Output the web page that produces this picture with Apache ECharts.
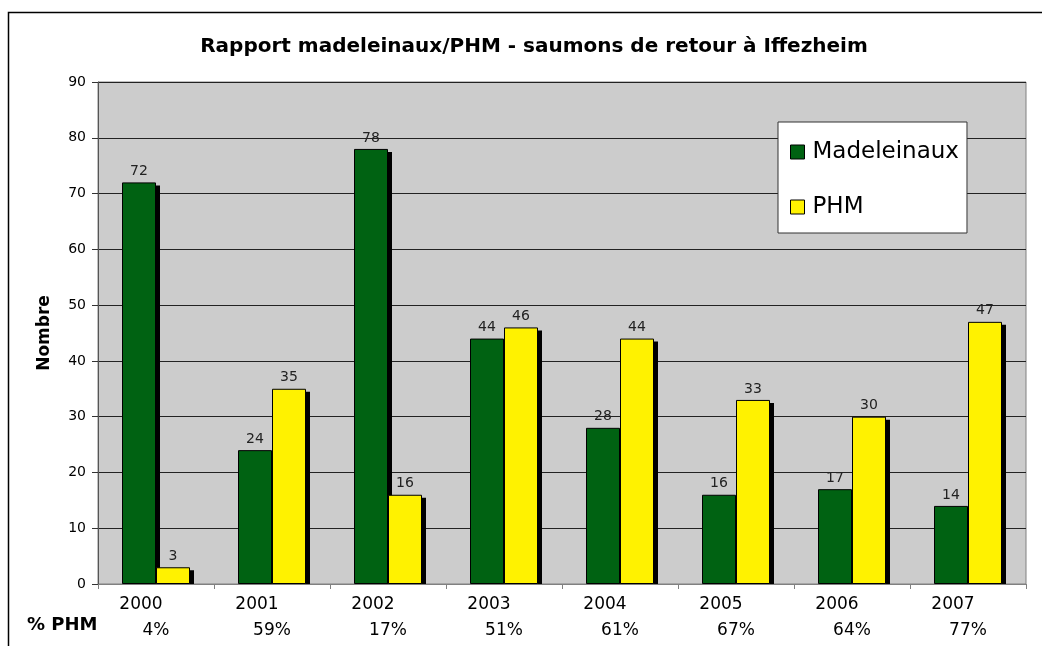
<!DOCTYPE html>
<html>
<head>
<meta charset="utf-8">
<script src="https://cdn.jsdelivr.net/npm/echarts@6/dist/echarts.min.js"></script>
<style>
  html, body { margin: 0; padding: 0; background: #fff; }
  #chart { width: 1042px; height: 646px; }
</style>
</head>
<body>
<div id="chart"></div>
<script>
const years = ['2000', '2001', '2002', '2003', '2004', '2005', '2006', '2007']
const madeleinaux = [72, 24, 78, 44, 28, 16, 17, 14]
const phm = [3, 35, 16, 46, 44, 33, 30, 47]
const pctPhm = ['4%', '59%', '17%', '51%', '61%', '67%', '64%', '77%']
const yTicks = { min: 0, max: 90, interval: 10 }

const BAR_W = 34

const chart = echarts.init(document.getElementById('chart'))

const labelStyle = {
  show: true,
  position: 'top',
  distance: 4,
  fontFamily: 'DejaVu Sans',
  fontSize: 14,
  color: '#222'
}

// drop shadows behind the bars (offset right and down)
function renderShadow(params, api) {
  const i = api.value(0)
  const base = api.coord([i, 0])
  const cx = base[0]
  const children = []
  ;[1, 2].forEach((dim, k) => {
    const top = api.coord([i, api.value(dim)])
    const h = base[1] - top[1] - 3
    if (h <= 0) return
    children.push({
      type: 'rect',
      shape: { x: cx - BAR_W + k * BAR_W + 4, y: top[1] + 3, width: BAR_W, height: h },
      style: { fill: '#000' }
    })
  })
  return { type: 'group', children: children }
}

chart.setOption({
  animation: false,
  backgroundColor: '#fff',
  title: {
    text: 'Rapport madeleinaux/PHM - saumons de retour à Iffezheim',
    left: 529,
    textAlign: 'center',
    top: 32,
    textStyle: {
      fontFamily: 'DejaVu Sans',
      fontWeight: 'bold',
      fontSize: 20,
      color: '#000'
    }
  },
  legend: {
    orient: 'vertical',
    left: 778,
    top: 122,
    padding: [18, 8, 14, 12],
    itemGap: 31,
    itemWidth: 14,
    itemHeight: 14,
    backgroundColor: '#fff',
    borderColor: '#333',
    borderWidth: 1,
    icon: 'rect',
    textStyle: { fontFamily: 'DejaVu Sans', fontSize: 23, lineHeight: 24, color: '#000', padding: [0, 0, 0, 3] },
    itemStyle: { borderColor: '#000', borderWidth: 1 },
    data: ['Madeleinaux', 'PHM']
  },
  grid: { left: 98, right: 16, top: 82, bottom: 62, show: true, backgroundColor: '#cccccc', borderColor: '#808080', borderWidth: 1 },
  xAxis: [
    {
      type: 'category',
      data: years,
      axisLine: { lineStyle: { color: '#808080', width: 1 } },
      axisTick: { show: true, length: 5, lineStyle: { color: '#808080' } },
      axisLabel: {
        margin: 12,
        padding: [0, 30, 0, 0],
        fontFamily: 'DejaVu Sans',
        fontSize: 17,
        color: '#000'
      }
    },
    {
      type: 'category',
      data: pctPhm,
      position: 'bottom',
      offset: 26,
      axisLine: { show: false },
      axisTick: { show: false },
      axisLabel: {
        margin: 12,
        fontFamily: 'DejaVu Sans',
        fontSize: 17,
        color: '#000'
      }
    }
  ],
  yAxis: {
    type: 'value',
    min: yTicks.min,
    max: yTicks.max,
    interval: yTicks.interval,
    name: 'Nombre',
    nameLocation: 'middle',
    nameGap: 45,
    nameRotate: 90,
    nameTextStyle: { fontFamily: 'DejaVu Sans', fontWeight: 'bold', fontSize: 17, color: '#000' },
    axisLine: { show: true, lineStyle: { color: '#555', width: 1 } },
    axisTick: { show: true, length: 6, lineStyle: { color: '#333' } },
    axisLabel: { margin: 12, fontFamily: 'DejaVu Sans', fontSize: 14, color: '#000' },
    splitLine: { lineStyle: { color: '#222', width: 1 } }
  },
  graphic: [
    {
      type: 'rect',
      shape: { x: 8.5, y: 12.5, width: 1040, height: 640 },
      style: { fill: 'none', stroke: '#000', lineWidth: 1.5 },
      silent: true,
      z: -1
    },
    {
      type: 'text',
      left: 27,
      top: 616,
      style: { text: '% PHM', fontFamily: 'DejaVu Sans', fontWeight: 'bold', fontSize: 18, fill: '#000' }
    }
  ],
  series: [
    {
      type: 'custom',
      name: 'shadow',
      renderItem: renderShadow,
      encode: { x: 0, y: [1, 2] },
      data: years.map((_, i) => [i, madeleinaux[i], phm[i]]),
      z: 1,
      silent: true
    },
    {
      name: 'Madeleinaux',
      type: 'bar',
      barWidth: BAR_W,
      barGap: '0%',
      z: 2,
      data: madeleinaux,
      itemStyle: { color: '#006212', borderColor: '#000', borderWidth: 1 },
      label: labelStyle
    },
    {
      name: 'PHM',
      type: 'bar',
      barWidth: BAR_W,
      barGap: '0%',
      z: 2,
      data: phm,
      itemStyle: { color: '#fff200', borderColor: '#000', borderWidth: 1 },
      label: labelStyle
    }
  ]
})
</script>
</body>
</html>
